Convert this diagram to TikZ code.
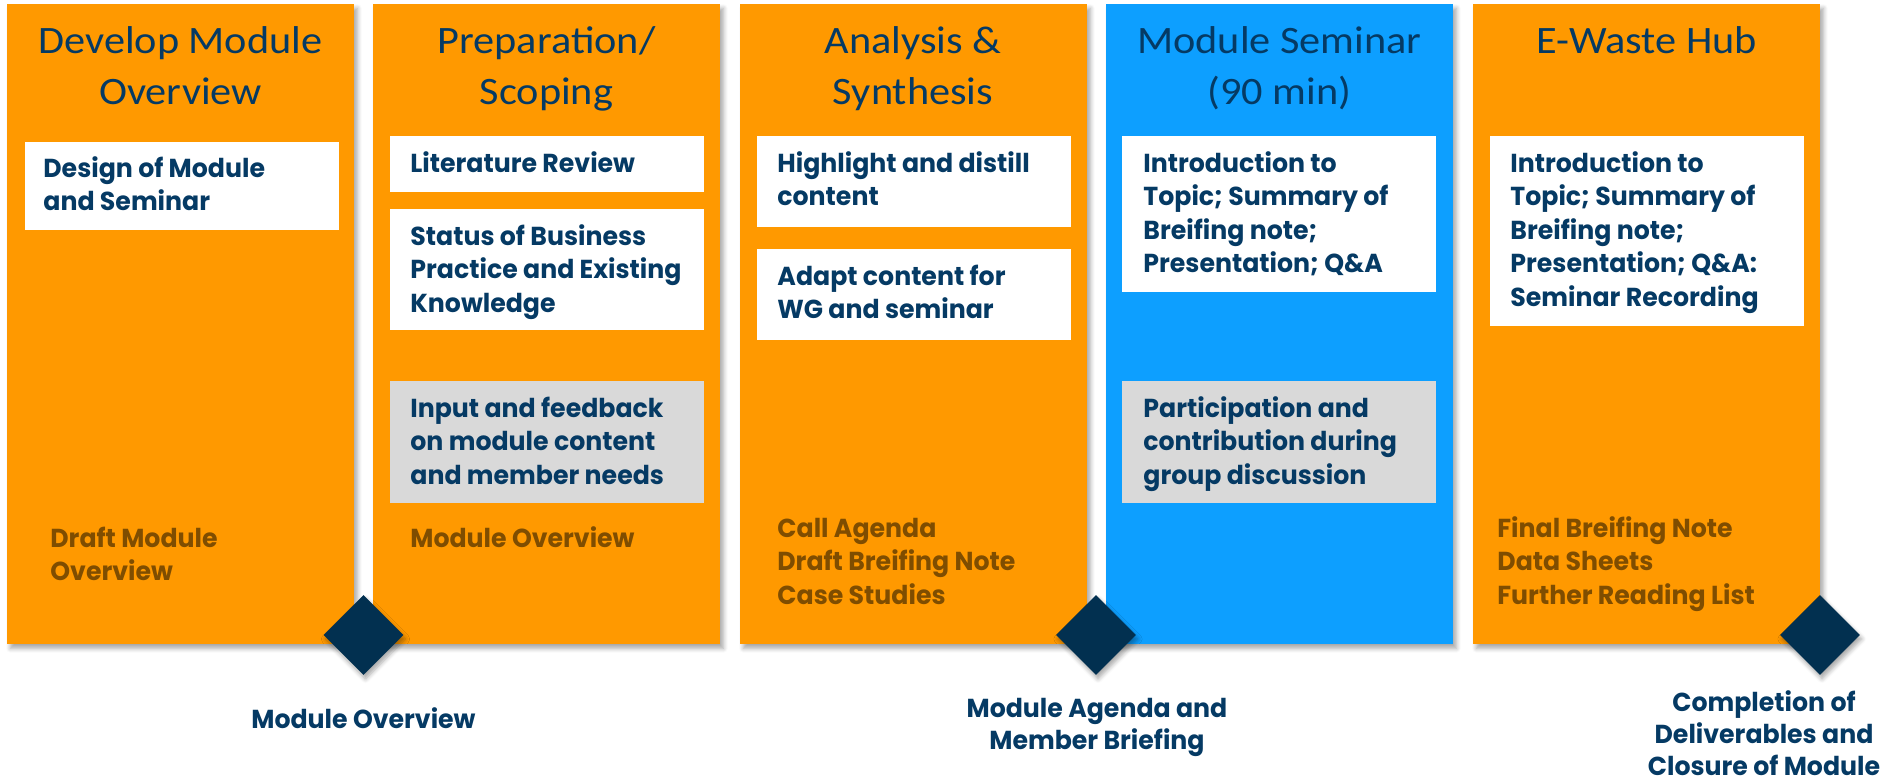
\documentclass[tikz,border=0pt]{standalone}
\usepackage{fontspec}
\setmainfont{Poppins}[FakeStretch=0.97]
\newfontfamily\titlefont[FakeStretch=1.09]{Carlito}
\usetikzlibrary{shapes.geometric,shadows.blur}
\definecolor{orng}{HTML}{FF9900}
\definecolor{skyb}{HTML}{0D9FFF}
\definecolor{navy}{HTML}{053A64}
\definecolor{dnavy}{HTML}{023050}
\definecolor{brwn}{HTML}{7F4D00}
\definecolor{lgray}{HTML}{D9D9D9}
\begin{document}
\begin{tikzpicture}[x=0.5pt,y=-0.5pt,
  phase/.style={anchor=north west, minimum width=173.5pt, minimum height=320pt, inner sep=0pt,
    blur shadow={shadow xshift=1.5pt, shadow yshift=-2pt, shadow blur steps=6, shadow opacity=35}},
  card/.style={anchor=north west, minimum width=157pt, inner sep=0pt, fill=white},
  graycard/.style={card, fill=lgray},
  title/.style={anchor=base, inner sep=0pt, text=navy, font=\titlefont\fontsize{19.4}{25.5}\selectfont},
  cardtext/.style={anchor=base west, inner sep=0pt, text=navy, font=\bfseries\fontsize{13}{16.75}\selectfont},
  deliv/.style={cardtext, text=brwn},
  milestone/.style={diamond, fill=dnavy, minimum width=40pt, minimum height=40pt, inner sep=0pt,
    blur shadow={shadow xshift=1pt, shadow yshift=-2pt, shadow blur steps=5, shadow opacity=35}},
  mlabel/.style={anchor=base, inner sep=0pt, text=navy, font=\bfseries\fontsize{13}{16}\selectfont}
]
\useasboundingbox (0,0) rectangle (1882,783);

% phase columns
\node[phase, fill=orng] (c1) at (7,4) {};
\node[phase, fill=orng] (c2) at (373,4) {};
\node[phase, fill=orng] (c3) at (740,4) {};
\node[phase, fill=skyb] (c4) at (1106,4) {};
\node[phase, fill=orng] (c5) at (1473,4) {};

% titles
\node[title] (t1) at (180.5,53) {\begin{tabular}[t]{@{}c@{}}Develop Module\\Overview\end{tabular}};
\node[title] (t2) at (546.5,53) {\begin{tabular}[t]{@{}c@{}}Preparation/\\Scoping\end{tabular}};
\node[title] (t3) at (913,53) {\begin{tabular}[t]{@{}c@{}}Analysis \&\\Synthesis\end{tabular}};
\node[title] (t4) at (1279.5,53) {\begin{tabular}[t]{@{}c@{}}Module Seminar\\(90 min)\end{tabular}};
\node[title] (t5) at (1646.5,53) {E-Waste Hub};

% cards
\node[card, minimum height=44pt] (b11) at (25,142) {};
\node[card, minimum height=28pt] (b21) at (390,136) {};
\node[card, minimum height=60.5pt] (b22) at (390,209) {};
\node[graycard, minimum height=61pt] (b23) at (390,381) {};
\node[card, minimum height=45.5pt] (b31) at (757,136) {};
\node[card, minimum height=45.5pt] (b32) at (757,249) {};
\node[card, minimum height=78pt] (b41) at (1122,136) {};
\node[graycard, minimum height=61pt] (b42) at (1122,381) {};
\node[card, minimum height=95pt] (b51) at (1490,136) {};

% card texts
\node[cardtext] (x11) at (43,177) {\begin{tabular}[t]{@{}l@{}}Design of Module\\and Seminar\end{tabular}};
\node[cardtext] (x21) at (410,172) {Literature Review};
\node[cardtext] (x22) at (410,245) {\begin{tabular}[t]{@{}l@{}}Status of Business\\Practice and Existing\\Knowledge\end{tabular}};
\node[cardtext] (x23) at (410,417) {\begin{tabular}[t]{@{}l@{}}Input and feedback\\on module content\\and member needs\end{tabular}};
\node[cardtext] (x31) at (777,172) {\begin{tabular}[t]{@{}l@{}}Highlight and distill\\content\end{tabular}};
\node[cardtext] (x32) at (777,285) {\begin{tabular}[t]{@{}l@{}}Adapt content for\\WG and seminar\end{tabular}};
\node[cardtext] (x41) at (1143,172) {\begin{tabular}[t]{@{}l@{}}Introduction to\\Topic; Summary of\\Breifing note;\\Presentation; Q\&A\end{tabular}};
\node[cardtext] (x42) at (1143,417) {\begin{tabular}[t]{@{}l@{}}Participation and\\contribution during\\group discussion\end{tabular}};
\node[cardtext] (x51) at (1510,172) {\begin{tabular}[t]{@{}l@{}}Introduction to\\Topic; Summary of\\Breifing note;\\Presentation; Q\&A:\\Seminar Recording\end{tabular}};

% deliverables
\node[deliv] (d1) at (50,547) {\begin{tabular}[t]{@{}l@{}}Draft Module\\Overview\end{tabular}};
\node[deliv] (d2) at (410,547) {Module Overview};
\node[deliv] (d3) at (777,537) {\begin{tabular}[t]{@{}l@{}}Call Agenda\\Draft Breifing Note\\Case Studies\end{tabular}};
\node[deliv] (d5) at (1497,537) {\begin{tabular}[t]{@{}l@{}}Final Breifing Note\\Data Sheets\\Further Reading List\end{tabular}};

% milestones
\node[milestone] (m1) at (363.5,635) {};
\node[milestone] (m2) at (1096,635) {};
\node[milestone] (m3) at (1820,635) {};

\node[mlabel] (l1) at (363.5,728) {Module Overview};
\node[mlabel] (l2) at (1097,717) {\begin{tabular}[t]{@{}c@{}}Module Agenda and\\Member Briefing\end{tabular}};
\node[mlabel] (l3) at (1764,711) {\begin{tabular}[t]{@{}c@{}}Completion of\\Deliverables and\\Closure of Module\end{tabular}};
\end{tikzpicture}
\end{document}
